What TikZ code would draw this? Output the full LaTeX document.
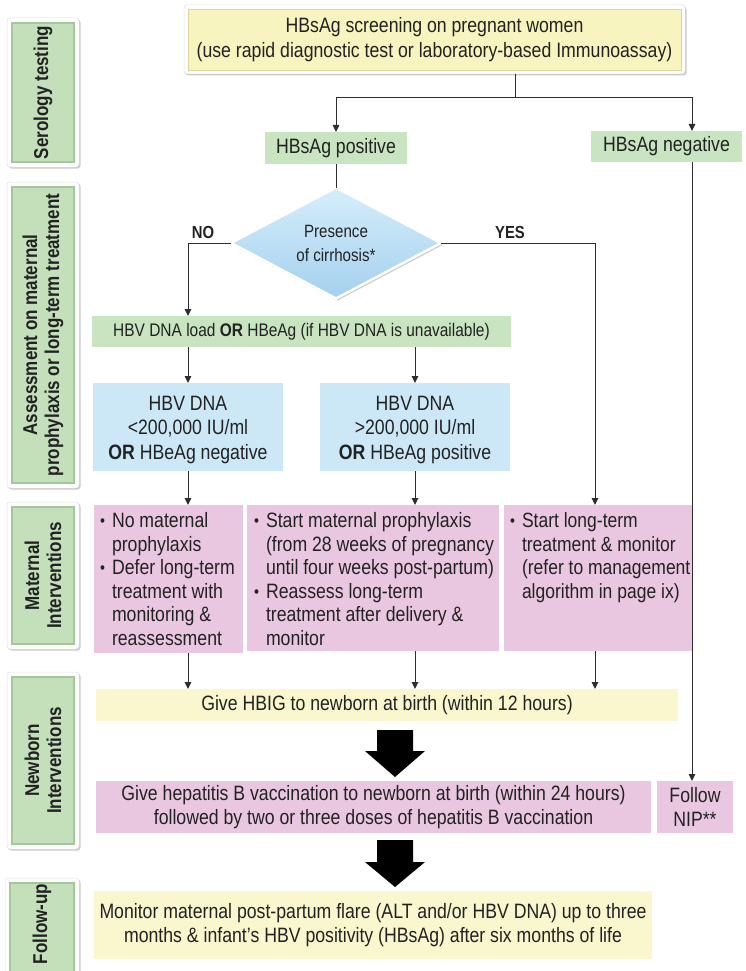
\documentclass[tikz,border=0pt]{standalone}
\usepackage{graphicx}
\usepackage{fontspec}
\setmainfont{Liberation Sans}[FakeStretch=0.85]
\usetikzlibrary{arrows.meta,shapes.geometric,shadows,calc}
\definecolor{ink}{HTML}{222222}
\definecolor{linec}{HTML}{2E2E2E}
\definecolor{gfill}{HTML}{C8E4C0}
\definecolor{sgfill}{HTML}{C3E0BA}
\definecolor{sgedge}{HTML}{A2C79A}
\definecolor{bfill}{HTML}{CCE8F7}
\definecolor{pfill}{HTML}{EAC7E0}
\definecolor{yfill}{HTML}{FAF7CE}
\definecolor{tyfill}{HTML}{F8F4BF}
\definecolor{tyedge}{HTML}{DCD79A}
\definecolor{dtop}{HTML}{D6EEFB}
\definecolor{dbot}{HTML}{A4D0EE}
\newcommand{\mybl}{\makebox[12pt][l]{\raisebox{1pt}{\scalebox{0.8}{•}}}}
\newcommand{\myind}{\hspace*{12pt}}
\begin{document}
\begin{tikzpicture}[x=1pt,y=-1pt,
  every node/.style={inner sep=0pt, outer sep=0pt, text=ink, font=\fontsize{20.8}{24}\selectfont},
  flat/.style={draw=none, align=center},
  gbox/.style={flat, fill=gfill},
  bbox/.style={flat, fill=bfill},
  btext/.style={align=center, font=\fontsize{20.8}{24.5}\selectfont},
  pbox/.style={flat, fill=pfill},
  ybox/.style={flat, fill=yfill},
  arr/.style={draw=linec, line width=1pt, -{Triangle[length=7pt,width=6.5pt]}},
  conn/.style={draw=linec, line width=1pt},
  frame/.style={fill=white, draw=black!12, line width=0.5pt, rounded corners=3pt,
     drop shadow={shadow xshift=1.5pt, shadow yshift=-1.5pt, opacity=0.35, fill=black!60}},
  sidegreen/.style={fill=sgfill, draw=sgedge, line width=1.2pt},
  sidetext/.style={rotate=90, align=center, font=\bfseries\fontsize{20}{22}\selectfont},
  bullets/.style={align=left, anchor=north west, font=\fontsize{20.8}{23.6}\selectfont},
  yesno/.style={font=\bfseries\fontsize{17.5}{20}\selectfont},
]
\useasboundingbox (0,0) rectangle (745,971);

% ---- side bars ----
\node[frame, minimum width=72, minimum height=149] (s1) at (43,92.5) {};
\node[sidegreen, minimum width=62, minimum height=139] (s1g) at (s1) {};
\node[sidetext] at (s1g) {Serology testing};

\node[frame, minimum width=72, minimum height=306] (s2) at (43,335) {};
\node[sidegreen, minimum width=62, minimum height=296] (s2g) at (s2) {};
\node[sidetext] at (s2g) {Assessment on maternal\\prophylaxis or long-term treatment};

\node[frame, minimum width=72, minimum height=147] (s3) at (43,575.5) {};
\node[sidegreen, minimum width=62, minimum height=137] (s3g) at (s3) {};
\node[sidetext] at (s3g) {Maternal\\Interventions};

\node[frame, minimum width=72, minimum height=177] (s4) at (43,760.5) {};
\node[sidegreen, minimum width=62, minimum height=167] (s4g) at (s4) {};
\node[sidetext] at (s4g) {Newborn\\Interventions};

\node[frame, minimum width=74, minimum height=112] (s5) at (42,934) {};
\node[sidegreen, minimum width=64, minimum height=102] (s5g) at (s5) {};
\node[sidetext] at ($(s5g)+(0,-10)$) {Follow-up};

% ---- top ----
\node[frame, minimum width=501, minimum height=69] (topf) at (434.5,39.5) {};
\node[fill=tyfill, draw=tyedge, line width=0.8pt, minimum width=493, minimum height=61,
      align=center, font=\fontsize{20.8}{25}\selectfont] (top) at (topf)
      {HBsAg screening on pregnant women\\(use rapid diagnostic test or laboratory-based Immunoassay)};

\node[gbox, minimum width=142, minimum height=32] (pos) at (336,148) {HBsAg positive};
\node[gbox, minimum width=151, minimum height=31] (neg) at (666.5,146.5) {HBsAg negative};

\node[diamond, aspect=1.9, minimum width=210, minimum height=111, top color=dtop, bottom color=dbot,
      draw=white, line width=2.5pt, drop shadow={shadow xshift=1.5pt, shadow yshift=-2pt, opacity=0.35, fill=black!60},
      align=center, font=\fontsize{17.8}{24}\selectfont] (dia) at (336,243) {Presence\\of cirrhosis*};
\node[yesno] (no) at (203,232) {NO};
\node[yesno] (yes) at (510,232) {YES};

\node[gbox, minimum width=419, minimum height=31, font=\fontsize{18.2}{22}\selectfont] (dna) at (301.5,331.5)
      {HBV DNA load \textbf{OR} HBeAg (if HBV DNA is unavailable)};

\node[bbox, minimum width=190, minimum height=88] (b1) at (188,427) {};
\node[btext] (b1t) at (188,429.5) {HBV DNA\\<200,000 IU/ml\\\textbf{OR} HBeAg negative};
\node[bbox, minimum width=190, minimum height=88] (b2) at (415,427) {};
\node[btext] (b2t) at (415,429.5) {HBV DNA\\>200,000 IU/ml\\\textbf{OR} HBeAg positive};

\node[pbox, minimum width=149, minimum height=148] (p1) at (168.5,579) {};
\node[pbox, minimum width=252, minimum height=146] (p2) at (373,578) {};
\node[pbox, minimum width=189, minimum height=146] (p3) at (598.5,578) {};
\node[bullets] (t1) at (100,512.5) {\mybl No maternal\\\myind prophylaxis\\\mybl Defer long-term\\\myind treatment with\\\myind monitoring \&\\\myind reassessment};
\node[bullets] (t2) at (254,512.5) {\mybl Start maternal prophylaxis\\\myind (from 28 weeks of pregnancy\\\myind until four weeks post-partum)\\\mybl Reassess long-term\\\myind treatment after delivery \&\\\myind monitor};
\node[bullets, font=\fontsize{20.6}{23.6}\selectfont] (t3) at (510,512.5) {\mybl Start long-term\\\myind treatment \& monitor\\\myind (refer to management\\\myind algorithm in page ix)};

\node[ybox, minimum width=582, minimum height=32] (hbig) at (387,705)
      {Give HBIG to newborn at birth (within 12 hours)};

\node[pbox, minimum width=555, minimum height=52] (vacc) at (373.5,807)
      {Give hepatitis B vaccination to newborn at birth (within 24 hours)\\followed by two or three doses of hepatitis B vaccination};
\node[pbox, minimum width=76, minimum height=52] (nip) at (695,807) {Follow\\NIP**};

\node[ybox, minimum width=558, minimum height=68, font=\fontsize{20.8}{24}\selectfont] (mon) at (373,925)
      {Monitor maternal post-partum flare (ALT and/or HBV DNA) up to three\\months \& infant’s HBV positivity (HBsAg) after six months of life};

% ---- big arrows ----
\fill[black] (377,730) -- (413,730) -- (413,751) -- (425,751) -- (395,777) -- (365,751) -- (377,751) -- cycle;
\fill[black] (377,840) -- (413,840) -- (413,862) -- (425,862) -- (395,887) -- (365,862) -- (377,862) -- cycle;

% ---- connectors ----
\coordinate (j1) at (515,98);
\coordinate (negx) at (692,0);
\coordinate (c3) at (595,0);
\draw[conn] (topf.south -| j1) -- (j1);
\draw[arr] (j1) -| (pos.north);
\draw[arr] (j1) -| (neg.north -| negx);
\draw[conn] (pos.south) -- (dia.north);
\draw[arr] (dia.west) -| (dna.north -| b1.north);
\draw[arr] (dia.east) -| (p3.north -| c3);
\draw[arr] (dna.south -| b1.north) -- (b1.north);
\draw[arr] (dna.south -| b2.north) -- (b2.north);
\draw[arr] (b1.south) -- (p1.north -| b1.south);
\draw[arr] (b2.south) -- (p2.north -| b2.south);
\draw[arr] (p1.south -| b1.south) -- (hbig.north -| b1.south);
\draw[arr] (p2.south -| b2.south) -- (hbig.north -| b2.south);
\draw[arr] (p3.south -| c3) -- (hbig.north -| c3);
\draw[arr] (neg.south -| negx) -- (nip.north -| negx);
\end{tikzpicture}
\end{document}
